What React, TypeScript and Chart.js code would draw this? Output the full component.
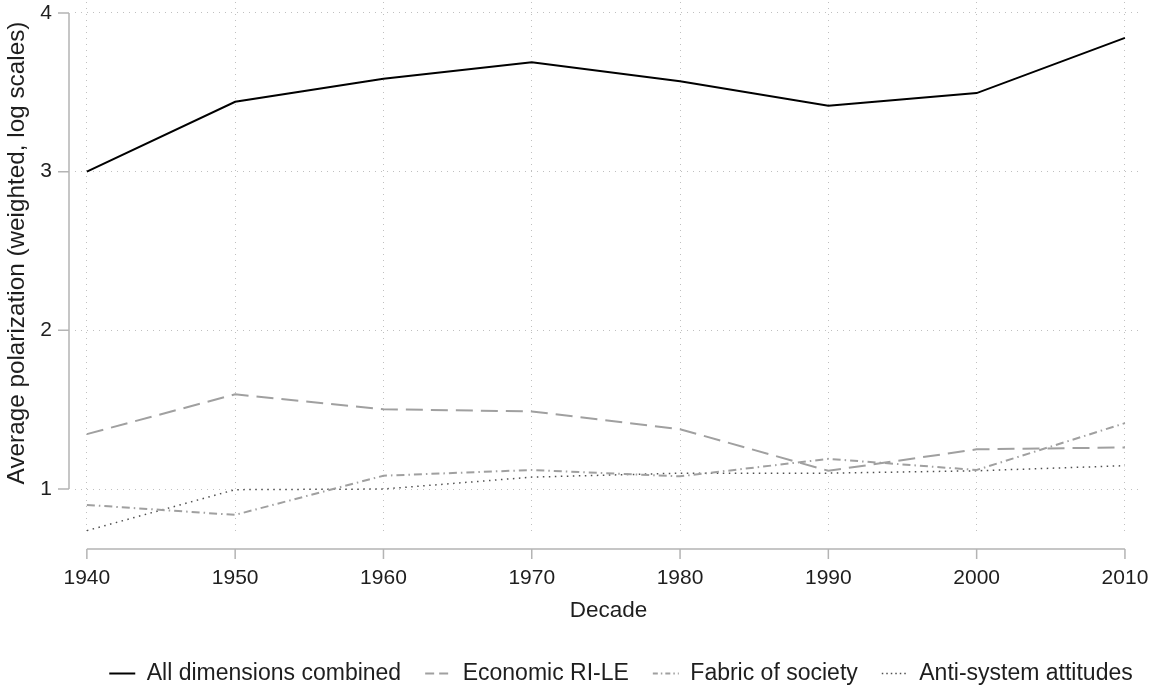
import React, { useEffect, useRef } from "react";
import { Chart, registerables } from "chart.js";

Chart.register(...registerables);

// ---- Data ----
const decades = [1940, 1950, 1960, 1970, 1980, 1990, 2000, 2010];
const allDimensions = [3.0, 3.44, 3.585, 3.69, 3.57, 3.415, 3.495, 3.843];
const economicRiLe = [1.346, 1.597, 1.503, 1.489, 1.377, 1.115, 1.25, 1.262];
const fabricOfSociety = [0.9, 0.837, 1.084, 1.12, 1.08, 1.19, 1.12, 1.415];
const antiSystem = [0.738, 0.996, 1.0, 1.075, 1.1, 1.1, 1.115, 1.147];
const yTickValues = [1, 2, 3, 4];
const seriesLabels = [
  "All dimensions combined",
  "Economic RI-LE",
  "Fabric of society",
  "Anti-system attitudes",
];
const xTitle = "Decade";
const yTitle = "Average polarization (weighted, log scales)";

const FONT = "'Liberation Sans', Arial, Helvetica, sans-serif";
const AXIS_COLOR = "#b4b4b4";
const GRID_COLOR = "#c0c0c0";
const TEXT_COLOR = "#1e1e1e";
const Y_TITLE_SIZE = 24.3;

const seriesStyles = [
  { color: "#000000", width: 2, dash: [] as number[], legendDash: [] as number[] },
  { color: "#a0a0a0", width: 2, dash: [17, 8], legendDash: [9, 5] },
  { color: "#a0a0a0", width: 2, dash: [8, 4, 1.5, 4], legendDash: [5, 3, 1.5, 3] },
  { color: "#505050", width: 1.5, dash: [1.5, 4.5], legendDash: [1.5, 3] },
];

// Stata-style axes: y axis line spans only the labelled range, x axis is offset below the plot
const axisPlugin = {
  id: "stataAxes",
  afterDraw(chart: any) {
    const { ctx, scales } = chart;
    const x = scales.x;
    const y = scales.y;
    const axX = x.left - 6;
    const axY = y.bottom + 13;
    ctx.save();
    ctx.strokeStyle = AXIS_COLOR;
    ctx.lineWidth = 1.5;
    ctx.setLineDash([]);
    ctx.beginPath();
    const yTop = y.getPixelForValue(yTickValues[yTickValues.length - 1]);
    const yBot = y.getPixelForValue(yTickValues[0]);
    ctx.moveTo(axX, yTop);
    ctx.lineTo(axX, yBot);
    for (const v of yTickValues) {
      const py = y.getPixelForValue(v);
      ctx.moveTo(axX - 11, py);
      ctx.lineTo(axX, py);
    }
    const xL = x.getPixelForValue(decades[0]);
    const xR = x.getPixelForValue(decades[decades.length - 1]);
    ctx.moveTo(xL, axY);
    ctx.lineTo(xR, axY);
    for (const d of decades) {
      const px = x.getPixelForValue(d);
      ctx.moveTo(px, axY);
      ctx.lineTo(px, axY + 10);
    }
    ctx.stroke();

    // y axis title, centred on the labelled axis range
    ctx.fillStyle = TEXT_COLOR;
    ctx.font = `${Y_TITLE_SIZE}px ${FONT}`;
    ctx.textAlign = "center";
    ctx.textBaseline = "middle";
    ctx.translate(17, (yTop + yBot) / 2 + 2);
    ctx.rotate(-Math.PI / 2);
    ctx.fillText(yTitle, 0, 0);
    ctx.restore();
  },
};

// The reference legend sits a little right of the page centre
const legendShiftPlugin = {
  id: "legendShift",
  afterLayout(chart: any) {
    const l = chart.legend;
    if (l) {
      l.left += 50;
      l.right += 50;
    }
  },
};

export default function App() {
  const canvasRef = useRef<HTMLCanvasElement | null>(null);

  useEffect(() => {
    if (!canvasRef.current) return;
    const series = [allDimensions, economicRiLe, fabricOfSociety, antiSystem];
    const datasets = series.map((data, i) => ({
      label: seriesLabels[i],
      data: decades.map((d, j) => ({ x: d, y: data[j] })),
      borderColor: seriesStyles[i].color,
      backgroundColor: seriesStyles[i].color,
      borderWidth: seriesStyles[i].width,
      borderDash: seriesStyles[i].dash,
      pointRadius: 0,
      pointHoverRadius: 0,
      tension: 0,
      fill: false,
    }));
    const chart = new Chart(canvasRef.current, {
      type: "line",
      data: { datasets },
      options: {
        animation: false,
        responsive: true,
        maintainAspectRatio: false,
        layout: { padding: { left: 0, right: 10, top: 2, bottom: 0 } },
        plugins: {
          tooltip: { enabled: false },
          legend: {
            position: "bottom",
            labels: {
              usePointStyle: true,
              pointStyle: "line",
              pointStyleWidth: 26,
              color: TEXT_COLOR,
              font: { family: FONT, size: 23 },
              padding: 24,
              generateLabels: () =>
                seriesLabels.map((text, i) => ({
                  text,
                  datasetIndex: i,
                  hidden: false,
                  fillStyle: seriesStyles[i].color,
                  strokeStyle: seriesStyles[i].color,
                  fontColor: TEXT_COLOR,
                  lineWidth: seriesStyles[i].width,
                  lineDash: seriesStyles[i].legendDash,
                  lineCap: "butt",
                  pointStyle: "line",
                })),
            },
          },
        },
        scales: {
          x: {
            type: "linear",
            min: decades[0] - 0.8,
            max: decades[decades.length - 1] + 1.15,
            afterBuildTicks: (scale: any) => {
              scale.ticks = decades.map((v) => ({ value: v }));
            },
            afterFit: (scale: any) => {
              scale.height = 102;
              scale.paddingLeft = 0;
              scale.paddingRight = 0;
            },
            grid: { color: GRID_COLOR, lineWidth: 1, drawTicks: false },
            border: { display: false, dash: [1, 5] },
            ticks: {
              padding: 30,
              color: TEXT_COLOR,
              font: { family: FONT, size: 21 },
              maxRotation: 0,
              callback: (v: any) => String(v),
            },
            title: {
              display: true,
              text: xTitle,
              color: TEXT_COLOR,
              font: { family: FONT, size: 22.5 },
              padding: { top: 0, bottom: 14 },
            },
          },
          y: {
            type: "linear",
            min: 0.704,
            max: 4.069,
            afterBuildTicks: (scale: any) => {
              scale.ticks = yTickValues.map((v) => ({ value: v }));
            },
            afterFit: (scale: any) => {
              scale.width = 75;
              scale.paddingTop = 0;
              scale.paddingBottom = 0;
            },
            grid: { color: GRID_COLOR, lineWidth: 1, drawTicks: false },
            border: { display: false, dash: [1, 5] },
            ticks: {
              padding: 23,
              color: TEXT_COLOR,
              font: { family: FONT, size: 21 },
              callback: (v: any) => String(v),
            },
            title: {
              display: false,
              text: yTitle,
            },
          },
        },
      },
      plugins: [axisPlugin, legendShiftPlugin],
    } as any);
    return () => chart.destroy();
  }, []);

  return (
    <div style={{ position: "fixed", left: 0, top: 0, width: 1152, height: 695, background: "#fff" }}>
      <canvas ref={canvasRef} />
    </div>
  );
}
